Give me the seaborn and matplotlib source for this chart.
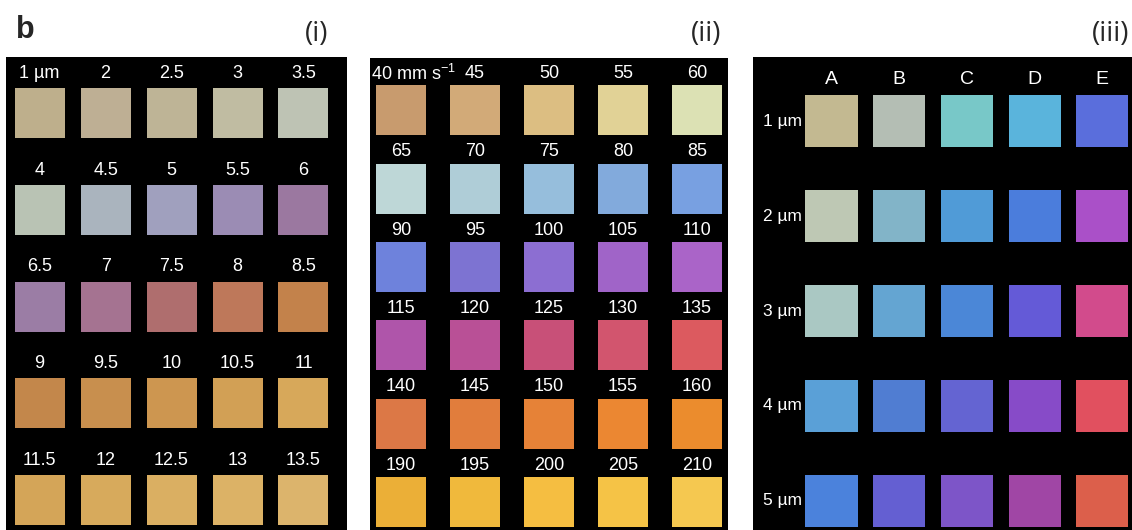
import numpy as np
import pandas as pd
import seaborn as sns
import matplotlib.pyplot as plt

sns.set_style("white")
plt.rcParams['font.family'] = ['Liberation Sans', 'DejaVu Sans']
plt.rcParams['mathtext.fontset'] = 'custom'
plt.rcParams['mathtext.rm'] = 'Liberation Sans'

# (i) film thickness series
thick_labels = ['1 µm', '2', '2.5', '3', '3.5',
                '4', '4.5', '5', '5.5', '6',
                '6.5', '7', '7.5', '8', '8.5',
                '9', '9.5', '10', '10.5', '11',
                '11.5', '12', '12.5', '13', '13.5']
thick_colors = ['#beaf8c', '#beaf94', '#beb496', '#c0bca2', '#bec3b4',
                '#b9c3b4', '#aab4be', '#a0a0be', '#9b8cb4', '#9b78a0',
                '#9b7da5', '#a57391', '#af6e6e', '#be785a', '#c3824b',
                '#c3874b', '#c88f4e', '#cd9650', '#d2a055', '#d7a85a',
                '#d4a558', '#d7aa5c', '#daaf62', '#dcb266', '#dcb46c']

# (ii) writing speed series
speed_labels = ['40 mm s$^{-1}$', '45', '50', '55', '60',
                '65', '70', '75', '80', '85',
                '90', '95', '100', '105', '110',
                '115', '120', '125', '130', '135',
                '140', '145', '150', '155', '160',
                '190', '195', '200', '205', '210']
speed_colors = ['#c89b6e', '#d2aa78', '#dcbe82', '#e1d296', '#dce1b4',
                '#bed7d7', '#afcdd7', '#96bedc', '#82aadc', '#78a0e1',
                '#6e82dc', '#7d73d2', '#8c6ed2', '#a064c8', '#aa64c8',
                '#af55aa', '#b95096', '#c85078', '#d2556e', '#dc5a5f',
                '#dc7846', '#e17d3c', '#e68237', '#eb8732', '#eb8c2d',
                '#ebaf37', '#f0b93c', '#f5be41', '#f5c346', '#f5c850']

# (iii) thickness x sample grid
grid_cols = ['A', 'B', 'C', 'D', 'E']
grid_rows = ['1 µm', '2 µm', '3 µm', '4 µm', '5 µm']
grid_colors = ['#c3b991', '#b4beb4', '#78c8c8', '#5ab4dc', '#5a6edc',
               '#bec8b4', '#82b4c8', '#509bd7', '#4b7ddc', '#aa50c8',
               '#aac8c3', '#64a5d2', '#4b87d7', '#645ad7', '#d24b8c',
               '#5aa0d7', '#507dd2', '#6464d2', '#874bc8', '#e1505f',
               '#4b82dc', '#645fd2', '#7d55c8', '#a046a5', '#dc5f4b']

W, H = 1132, 530
fig = plt.figure(figsize=(W / 100, H / 100), dpi=100)


def box(x0, y0, x1, y1):
    ax = fig.add_axes([x0 / W, 1 - y1 / H, (x1 - x0) / W, (y1 - y0) / H])
    ax.set_facecolor('black')
    ax.set_xticks([])
    ax.set_yticks([])
    for s in ax.spines.values():
        s.set_visible(False)
    return ax


def swatches(ax, keys, colors, size):
    n = len(keys)
    df = pd.DataFrame({'col': np.arange(n) % 5, 'row': np.arange(n) // 5, 'key': keys})
    sns.scatterplot(data=df, x='col', y='row', hue='key', palette=dict(zip(keys, colors)),
                    marker='s', s=size, linewidth=0, legend=False, ax=ax)
    ax.set_xlabel('')
    ax.set_ylabel('')
    return df


# panel (i)
ax1 = box(6, 57, 347, 530)
df1 = swatches(ax1, thick_labels, thick_colors, 36 ** 2)
for _, r in df1.iterrows():
    ax1.text(r['col'], r['row'] - 0.41, r['key'], color='white', fontsize=13,
             ha='center', va='center')
ax1.set_xlim(-0.51, 4.66)
ax1.set_ylim(4.31, -0.58)

# panel (ii)
ax2 = box(370, 58, 728, 530)
df2 = swatches(ax2, speed_labels, speed_colors, 36 ** 2)
for _, r in df2.iterrows():
    if r['col'] == 0 and r['row'] == 0:
        ax2.text(-0.4, r['row'] - 0.47, r['key'], color='white', fontsize=13,
                 ha='left', va='center')
    else:
        ax2.text(r['col'], r['row'] - 0.47, r['key'], color='white', fontsize=13,
                 ha='center', va='center')
ax2.set_xlim(-0.42, 4.42)
ax2.set_ylim(5.36, -0.67)

# panel (iii)
ax3 = box(753, 57, 1132, 530)
keys3 = [c + r for r in grid_rows for c in grid_cols]
swatches(ax3, keys3, grid_colors, 37.5 ** 2)
for i, c in enumerate(grid_cols):
    ax3.text(i, -0.44, c, color='white', fontsize=14, ha='center', va='center')
for j, r in enumerate(grid_rows):
    ax3.text(-0.44, j, r, color='white', fontsize=12.5, ha='right', va='center')
ax3.set_xlim(-1.16, 4.44)
ax3.set_ylim(4.31, -0.68)

# headings
fig.text(25 / W, 1 - 30 / H, 'b', fontsize=22, fontweight='bold', ha='center', va='center')
for x, t in [(328, '(i)'), (721, '(ii)'), (1129, '(iii)')]:
    fig.text(x / W, 1 - 34 / H, t, fontsize=20, ha='right', va='center',
             family=['Open Sans', 'DejaVu Sans'])

fig.savefig('out.png', dpi=100)
